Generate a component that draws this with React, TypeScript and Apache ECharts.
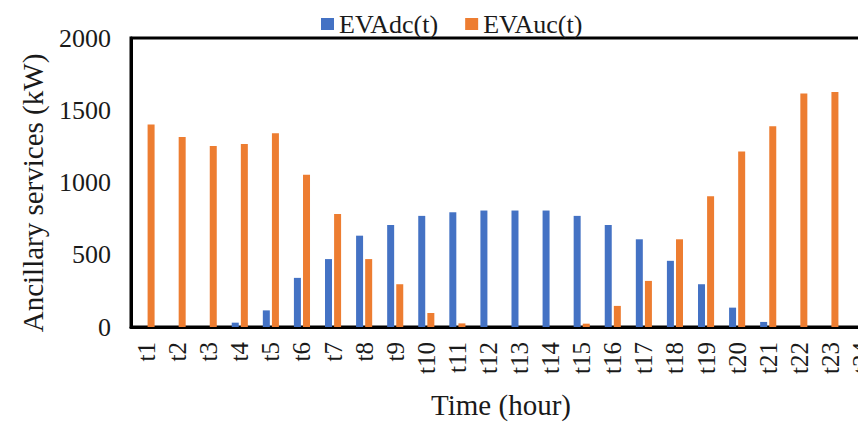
import React, { useEffect, useRef } from "react";
import * as echarts from "echarts";

const categories = ["t1","t2","t3","t4","t5","t6","t7","t8","t9","t10","t11","t12","t13","t14","t15","t16","t17","t18","t19","t20","t21","t22","t23","t24"];
const evadc = [0, 0, 0, 30, 115, 340, 470, 632, 706, 769, 794, 806, 806, 806, 769, 706, 607, 458, 296, 134, 35, 0, 0, 0];
const evauc = [1401, 1315, 1252, 1266, 1340, 1053, 782, 470, 296, 97, 25, 0, 0, 0, 23, 146, 319, 607, 905, 1215, 1389, 1616, 1627, 1600];
const yTicks = { min: 0, max: 2000, interval: 500 };
const yTitle = "Ancillary services (kW)";
const xTitle = "Time (hour)";

const FONT = "'Liberation Serif', 'Times New Roman', serif";
const TEXT = "#1a1a1a";

export default function App() {
  const ref = useRef<HTMLDivElement>(null);
  useEffect(() => {
    const chart = echarts.init(ref.current!, null, { renderer: "svg" });
    chart.setOption({
      animation: false,
      textStyle: { fontFamily: FONT, color: TEXT },
      legend: {
        top: 6,
        left: 316,
        icon: "rect",
        itemWidth: 13,
        itemHeight: 12,
        itemGap: 27,
        textStyle: { fontFamily: FONT, fontSize: 26, color: TEXT },
        data: ["EVAdc(t)", "EVAuc(t)"],
      },
      grid: {
        left: 131,
        top: 38,
        bottom: 95,
        right: -19,
        show: true,
        borderColor: "#000",
        borderWidth: 3,
        containLabel: false,
        outerBoundsMode: "none",
      },
      graphic: [
        {
          type: "text",
          x: 33,
          y: 193,
          rotation: Math.PI / 2,
          style: {
            text: yTitle,
            fontSize: 29,
            fontFamily: FONT,
            fill: TEXT,
            align: "center",
            verticalAlign: "middle",
          },
        },
        {
          type: "text",
          x: 501,
          y: 405,
          style: {
            text: xTitle,
            fontSize: 29,
            fontFamily: FONT,
            fill: TEXT,
            align: "center",
            verticalAlign: "middle",
          },
        },
      ],
      xAxis: {
        type: "category",
        data: categories,
        axisLine: { show: true, lineStyle: { color: "#000", width: 3 } },
        axisTick: { show: false },
        axisLabel: {
          interval: 0,
          rotate: 90,
          margin: 15,
          fontSize: 25,
          fontFamily: FONT,
          color: TEXT,
        },
      },
      yAxis: {
        type: "value",
        min: yTicks.min,
        max: yTicks.max,
        interval: yTicks.interval,
        axisLine: { show: true, lineStyle: { color: "#000", width: 3 } },
        axisTick: { show: false },
        splitLine: { show: false },
        axisLabel: {
          fontSize: 26,
          fontFamily: FONT,
          color: TEXT,
          margin: 20,
          formatter: (v: number) => String(v),
        },
      },
      series: [
        {
          name: "EVAdc(t)",
          type: "bar",
          data: evadc,
          barWidth: 7,
          barGap: "30%",
          itemStyle: { color: "#4472C4" },
        },
        {
          name: "EVAuc(t)",
          type: "bar",
          data: evauc,
          barWidth: 7,
          itemStyle: { color: "#ED7D31" },
        },
      ],
    });
    return () => chart.dispose();
  }, []);
  return (
    <div
      ref={ref}
      style={{ position: "fixed", left: 0, top: 0, width: 858, height: 422, background: "#fff" }}
    />
  );
}
